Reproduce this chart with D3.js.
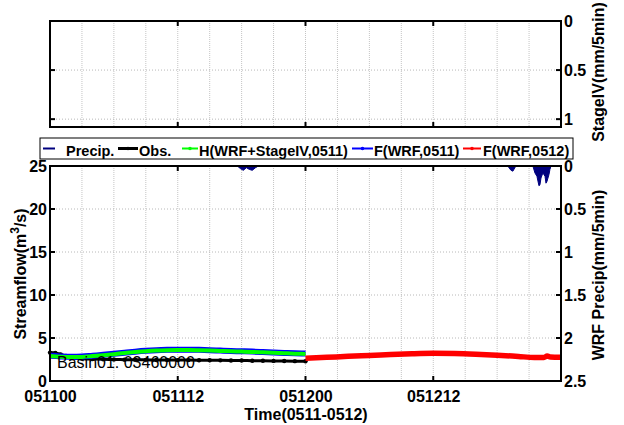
<!DOCTYPE html>
<html><head><meta charset="utf-8">
<script src="https://cdn.jsdelivr.net/npm/d3@7"></script>
<style>
html,body{margin:0;padding:0;background:#fff;}
svg text{font-family:"Liberation Sans",Arial,Helvetica,sans-serif;font-weight:bold;fill:#000;}
</style></head>
<body><svg id="c" width="624" height="425"></svg>
<script>
// ---- data ----
const xTickHours = [0, 12, 24, 36];
const xTickLabels = ["051100", "051112", "051200", "051212"];
const leftTicks = [0, 5, 10, 15, 20, 25];
const rightTicks = [0, 0.5, 1, 1.5, 2, 2.5];
const topTicks = [0, 0.5, 1];

const obsHours = [0, 0.5, 1, 1.5, 2, 3, 4, 5, 6, 7, 8, 9, 10, 11, 12, 13, 14, 15, 16, 17, 18, 19, 20, 21, 22, 23, 24];
const obsFlow  = [3.3, 3.25, 3.1, 2.9, 2.7, 2.6, 2.55, 2.52, 2.5, 2.48, 2.47, 2.46, 2.45, 2.44, 2.43, 2.43, 2.42, 2.41, 2.4, 2.39, 2.38, 2.36, 2.35, 2.34, 2.32, 2.31, 2.3];

const hHours = [0, 1, 2, 3, 4, 5, 6, 7, 8, 9, 10, 11, 12, 13, 14, 15, 16, 17, 18, 19, 20, 21, 22, 23, 24];
const hFlow  = [2.9, 2.82, 2.78, 2.8, 2.9, 3.0, 3.12, 3.25, 3.37, 3.47, 3.54, 3.58, 3.6, 3.6, 3.58, 3.55, 3.5, 3.45, 3.42, 3.38, 3.33, 3.28, 3.23, 3.18, 3.15];
const f0511Flow = [2.93, 2.86, 2.82, 2.84, 2.94, 3.04, 3.16, 3.29, 3.41, 3.51, 3.58, 3.62, 3.64, 3.64, 3.62, 3.59, 3.54, 3.49, 3.46, 3.42, 3.37, 3.32, 3.27, 3.22, 3.19];

const f0512Hours = [24, 26, 28, 30, 32, 34, 36, 38, 40, 42, 44, 45.5, 46.4, 46.7, 47, 48];
const f0512Flow  = [2.64, 2.75, 2.87, 2.97, 3.08, 3.17, 3.22, 3.2, 3.12, 3.0, 2.85, 2.74, 2.74, 2.9, 2.78, 2.75];

const precipHours = [17.6, 17.88, 18.16, 18.45, 18.73, 19.0, 19.3, 19.58,
                     43.0, 43.3, 43.48, 43.76,
                     45.36, 45.55, 45.74, 45.93, 46.02, 46.12, 46.3, 46.5, 46.59, 46.68, 46.87, 46.96, 47.06];
const precipMM    = [0, 0.03, 0.05, 0.02, 0.04, 0.05, 0.02, 0,
                     0, 0.05, 0.06, 0,
                     0, 0.08, 0.12, 0.23, 0.22, 0.14, 0.08, 0.12, 0.2, 0.18, 0.1, 0.04, 0];

const legendNames = ["Precip.", "Obs.", "H(WRF+StageIV,0511)", "F(WRF,0511)", "F(WRF,0512)"];
const legendColors = ["#00007f", "#000000", "#00ff00", "#0000ff", "#ff0000"];

// ---- layout ----
const FONT = '"Liberation Sans",Arial,sans-serif';
const svg = d3.select("#c");
const X0 = 50, X1 = 561;
const x = d3.scaleLinear().domain([0, 48]).range([X0, X1]);
const topY = d3.scaleLinear().domain([0, 1.08]).range([21, 127]);
const yL = d3.scaleLinear().domain([0, 25]).range([381, 166]);
const yR = d3.scaleLinear().domain([0, 2.5]).range([166, 381]);
const gridHours = d3.range(3, 48, 3);

function styleTicks(g) {
  g.select(".domain").remove();
  g.selectAll("text").style("font-size", "16px").style("font-family", FONT).style("font-weight", "bold");
}
function grid(g, yTop, yBot, hVals) {
  g.selectAll(".vg").data(gridHours).join("line")
    .attr("x1", d => x(d)).attr("x2", d => x(d)).attr("y1", yTop).attr("y2", yBot)
    .attr("stroke", "#c4c4c4").attr("stroke-width", 1).attr("stroke-dasharray", "1,1");
  g.selectAll(".hg").data(hVals).join("line")
    .attr("x1", X0).attr("x2", X1).attr("y1", d => d).attr("y2", d => d)
    .attr("stroke", "#b8b8b8").attr("stroke-width", 1).attr("stroke-dasharray", "1,2");
}

// ---- top panel ----
const gt = svg.append("g");
grid(gt, 21, 127, topTicks.slice(1).map(topY));
gt.append("rect").attr("x", X0).attr("y", 21).attr("width", X1 - X0).attr("height", 106)
  .attr("fill", "none").attr("stroke", "#000").attr("stroke-width", 2);
const gtr = gt.append("g").attr("transform", `translate(${X1},0)`)
  .call(d3.axisRight(topY).tickValues(topTicks).tickSize(0).tickPadding(3).tickFormat(d3.format("~g")));
styleTicks(gtr);
topTicks.forEach(v => {
  gt.append("line").attr("x1", X0).attr("x2", X0 + 5).attr("y1", topY(v)).attr("y2", topY(v)).attr("stroke", "#000").attr("stroke-width", 2);
  gt.append("line").attr("x1", X1 - 5).attr("x2", X1).attr("y1", topY(v)).attr("y2", topY(v)).attr("stroke", "#000").attr("stroke-width", 2);
});
[12, 24, 36].forEach(h => {
  gt.append("line").attr("x1", x(h)).attr("x2", x(h)).attr("y1", 21).attr("y2", 26).attr("stroke", "#000").attr("stroke-width", 2);
  gt.append("line").attr("x1", x(h)).attr("x2", x(h)).attr("y1", 122).attr("y2", 127).attr("stroke", "#000").attr("stroke-width", 2);
});
svg.append("text").attr("transform", "translate(604,72) rotate(-90)").attr("text-anchor", "middle")
  .style("font-size", "16px").text("StageIV(mm/5min)");

// ---- main panel ----
const gm = svg.append("g");
grid(gm, 166, 381, leftTicks.slice(1, -1).map(yL));

// precip (inverted, hanging from the top)
const precipData = precipHours.map((h, i) => [h, precipMM[i]]);
gm.append("path").datum(precipData)
  .attr("d", d3.area().x(d => x(d[0])).y0(yR(0)).y1(d => yR(d[1])))
  .attr("fill", "#00007f").attr("stroke", "#00007f").attr("stroke-width", 1);

const line = d3.line().x(d => x(d[0])).y(d => yL(d[1])).curve(d3.curveMonotoneX);
const obsData = obsHours.map((h, i) => [h, obsFlow[i]]);
const hData = hHours.map((h, i) => [h, hFlow[i]]);
const f1Data = hHours.map((h, i) => [h, f0511Flow[i]]);
const f2Data = f0512Hours.map((h, i) => [h, f0512Flow[i]]);

gm.append("path").datum(obsData).attr("d", line).attr("fill", "none").attr("stroke", "#000").attr("stroke-width", 3);
gm.selectAll(".od").data(obsData).join("circle").attr("cx", d => x(d[0])).attr("cy", d => yL(d[1])).attr("r", 2.2).attr("fill", "#000");
gm.append("path").datum(f1Data).attr("d", line).attr("fill", "none").attr("stroke", "#0000ff").attr("stroke-width", 6);
gm.append("path").datum(hData).attr("d", line).attr("fill", "none").attr("stroke", "#00ff00").attr("stroke-width", 4);
gm.append("path").datum(f2Data).attr("d", line).attr("fill", "none").attr("stroke", "#ff0000").attr("stroke-width", 5.5);

gm.append("rect").attr("x", X0).attr("y", 166).attr("width", X1 - X0).attr("height", 215)
  .attr("fill", "none").attr("stroke", "#000").attr("stroke-width", 2);

// left axis
const la = gm.append("g").attr("transform", `translate(${X0},0)`)
  .call(d3.axisLeft(yL).tickValues(leftTicks).tickSize(0).tickPadding(3));
styleTicks(la);
leftTicks.forEach(v => gm.append("line").attr("x1", X0).attr("x2", X0 + 5).attr("y1", yL(v)).attr("y2", yL(v)).attr("stroke", "#000").attr("stroke-width", 2));

// right axis
const ra = gm.append("g").attr("transform", `translate(${X1},0)`)
  .call(d3.axisRight(yR).tickValues(rightTicks).tickSize(0).tickPadding(3).tickFormat(d3.format("~g")));
styleTicks(ra);
rightTicks.forEach(v => gm.append("line").attr("x1", X1 - 5).attr("x2", X1).attr("y1", yR(v)).attr("y2", yR(v)).attr("stroke", "#000").attr("stroke-width", 2));

// bottom axis
const ba = gm.append("g").attr("transform", "translate(0,381)")
  .call(d3.axisBottom(x).tickValues(xTickHours).tickSize(0).tickPadding(10).tickFormat((d, i) => xTickLabels[i]));
styleTicks(ba);
[12, 24, 36].forEach(h => {
  gm.append("line").attr("x1", x(h)).attr("x2", x(h)).attr("y1", 376).attr("y2", 381).attr("stroke", "#000").attr("stroke-width", 2);
  gm.append("line").attr("x1", x(h)).attr("x2", x(h)).attr("y1", 166).attr("y2", 171).attr("stroke", "#000").attr("stroke-width", 2);
});

// basin text
svg.append("text").attr("x", 57).attr("y", 368).style("font-weight", "normal").style("font-size", "16px").text("Basin01: 03460000");

// titles
const st = svg.append("text").attr("transform", "translate(26,274) rotate(-90)").attr("text-anchor", "middle").style("font-size", "16px");
st.append("tspan").text("Streamflow(m");
st.append("tspan").attr("dy", -7).style("font-size", "12px").text("3");
st.append("tspan").attr("dy", 7).text("/s)");
svg.append("text").attr("x", 306).attr("y", 420).attr("text-anchor", "middle").style("font-size", "16px").text("Time(0511-0512)");
svg.append("text").attr("transform", "translate(604,275) rotate(-90)").attr("text-anchor", "middle").style("font-size", "16px").text("WRF Precip(mm/5min)");

// legend
const lg = svg.append("g");
lg.append("rect").attr("x", 40).attr("y", 138).attr("width", 533).attr("height", 21).attr("fill", "#fff").attr("stroke", "#000").attr("stroke-width", 1);
const legX = [[43, 55, 66], [118, 138, 139], [182, 198, 199], [352, 373, 374], [463, 481, 483]];
legendNames.forEach((n, i) => {
  const [a, b, t] = legX[i];
  lg.append("line").attr("x1", a).attr("x2", b).attr("y1", 148.5).attr("y2", 148.5)
    .attr("stroke", legendColors[i]).attr("stroke-width", i === 1 ? 3 : 2);
  if (i > 0) lg.append("circle").attr("cx", (a + b) / 2).attr("cy", 148.5).attr("r", 1.8).attr("fill", legendColors[i]);
  lg.append("text").attr("x", t).attr("y", 155.5).style("font-size", "14.5px").text(n);
});
</script></body></html>
